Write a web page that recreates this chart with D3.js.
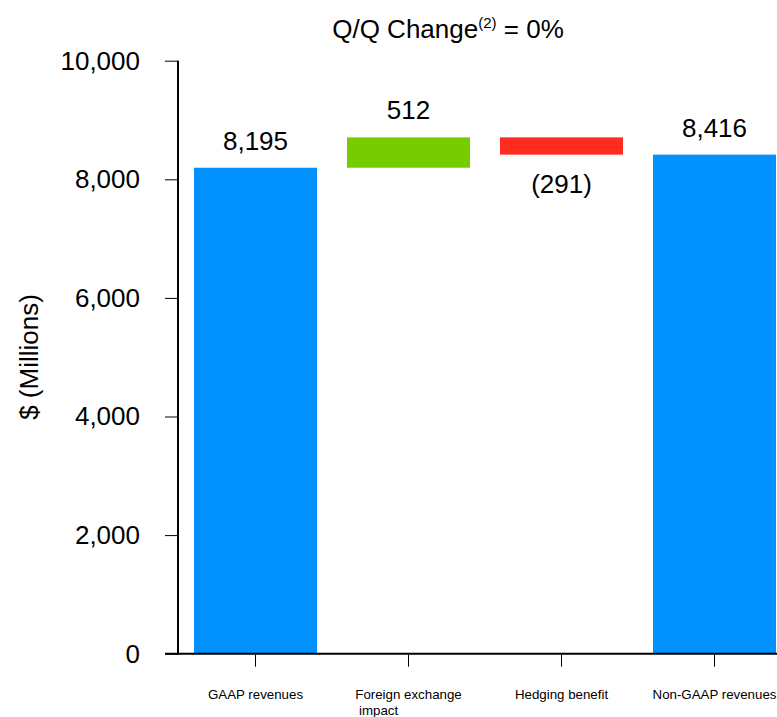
<!DOCTYPE html>
<html>
<head>
<meta charset="utf-8">
<script src="https://cdn.jsdelivr.net/npm/d3@7"></script>
<style>
  html, body { margin: 0; padding: 0; background: #fff; }
  svg { display: block; font-family: "Liberation Sans", Arial, sans-serif; }
</style>
</head>
<body>
<svg id="chart" width="777" height="717"></svg>
<script>
// Revenue bridge: GAAP -> FX impact -> hedging -> Non-GAAP ($ millions)
const categories = ["GAAP revenues", "Foreign exchange| impact", "Hedging benefit", "Non-GAAP revenues"];
const stepValues = [8195, 512, -291, 8416];
const stepKinds = ["total", "delta", "delta", "total"];
const valueLabels = ["8,195", "512", "(291)", "8,416"];
const yTicks = [0, 2000, 4000, 6000, 8000, 10000];

const colors = { total: "#0091ff", up: "#77cc00", down: "#ff2b1c" };

const svg = d3.select("#chart");
const yAxisX = 178;

const y = d3.scaleLinear().domain([0, 10000]).range([653.7, 60.7]);

const x = d3.scaleBand()
  .domain(categories)
  .range([yAxisX, yAxisX + 153 * (4 - 0.196 + 2 * 0.1046)])
  .paddingInner(0.196)
  .paddingOuter(0.1046);

// running totals for the floating bars
let running = 0;
const bars = categories.map((c, i) => {
  let lo, hi;
  if (stepKinds[i] === "total") {
    lo = 0; hi = stepValues[i]; running = stepValues[i];
  } else {
    const start = running;
    running += stepValues[i];
    lo = Math.min(start, running); hi = Math.max(start, running);
  }
  const color = stepKinds[i] === "total" ? colors.total : (stepValues[i] >= 0 ? colors.up : colors.down);
  return { c, lo, hi, color, label: valueLabels[i], v: stepValues[i], kind: stepKinds[i] };
});

// bars
svg.append("g").selectAll("rect")
  .data(bars)
  .join("rect")
  .attr("x", d => x(d.c))
  .attr("width", x.bandwidth())
  .attr("y", d => y(d.hi))
  .attr("height", d => y(d.lo) - y(d.hi))
  .attr("fill", d => d.color);

// value labels: above the bar, or below it for decreases
svg.append("g").selectAll("text")
  .data(bars)
  .join("text")
  .attr("x", d => x(d.c) + x.bandwidth() / 2)
  .attr("y", d => (d.kind === "delta" && d.v < 0) ? y(d.lo) + 38 : y(d.hi) - 18)
  .attr("text-anchor", "middle")
  .attr("font-size", 26)
  .attr("fill", "#000")
  .text(d => d.label);

// y axis
const yAxis = svg.append("g")
  .attr("transform", `translate(${yAxisX},0)`)
  .call(d3.axisLeft(y).tickValues(yTicks).tickSize(13).tickPadding(25)
    .tickFormat(d3.format(",")));
yAxis.select(".domain").remove();
yAxis.selectAll(".tick line").attr("stroke", "#000").attr("stroke-width", 1);
yAxis.selectAll(".tick text")
  .attr("font-size", 26)
  .attr("font-family", "Liberation Sans, Arial, sans-serif")
  .attr("fill", "#000");
svg.append("line")
  .attr("x1", yAxisX).attr("x2", yAxisX)
  .attr("y1", y(10000)).attr("y2", y(0) + 1)
  .attr("stroke", "#000").attr("stroke-width", 2);

// x axis
const xAxisG = svg.append("g").attr("transform", `translate(0,${y(0)})`);
xAxisG.append("line")
  .attr("x1", 165).attr("x2", 777)
  .attr("y1", 0).attr("y2", 0)
  .attr("stroke", "#000").attr("stroke-width", 2);
xAxisG.selectAll("line.tick")
  .data(categories)
  .join("line")
  .attr("class", "tick")
  .attr("x1", d => x(d) + x.bandwidth() / 2)
  .attr("x2", d => x(d) + x.bandwidth() / 2)
  .attr("y1", 1).attr("y2", 13)
  .attr("stroke", "#000").attr("stroke-width", 1);

const catLabels = xAxisG.selectAll("text.cat")
  .data(categories)
  .join("text")
  .attr("class", "cat")
  .attr("font-size", 13.3)
  .attr("fill", "#000")
  .attr("y", 45);
catLabels.each(function(d) {
  const t = d3.select(this);
  const lines = d.split("|");
  lines.forEach((ln, i) => {
    t.append("tspan").attr("dy", i === 0 ? 0 : 16).text(ln).attr("xml:space", "preserve");
  });
  const firstW = t.select("tspan").node().getComputedTextLength();
  const cx = x(d) + x.bandwidth() / 2;
  t.selectAll("tspan").attr("x", cx - firstW / 2);
});

// y axis title
svg.append("text")
  .attr("transform", "translate(38,357) rotate(-90)")
  .attr("text-anchor", "middle")
  .attr("font-size", 26)
  .attr("fill", "#000")
  .text("$ (Millions)");

// heading
const title = svg.append("text")
  .attr("x", 448).attr("y", 38)
  .attr("text-anchor", "middle")
  .attr("font-size", 26)
  .attr("fill", "#000");
title.append("tspan").text("Q/Q Change");
title.append("tspan").attr("font-size", 15).attr("dy", -10).text("(2)");
title.append("tspan").attr("dy", 10).text(" = 0%");
</script>
</body>
</html>
